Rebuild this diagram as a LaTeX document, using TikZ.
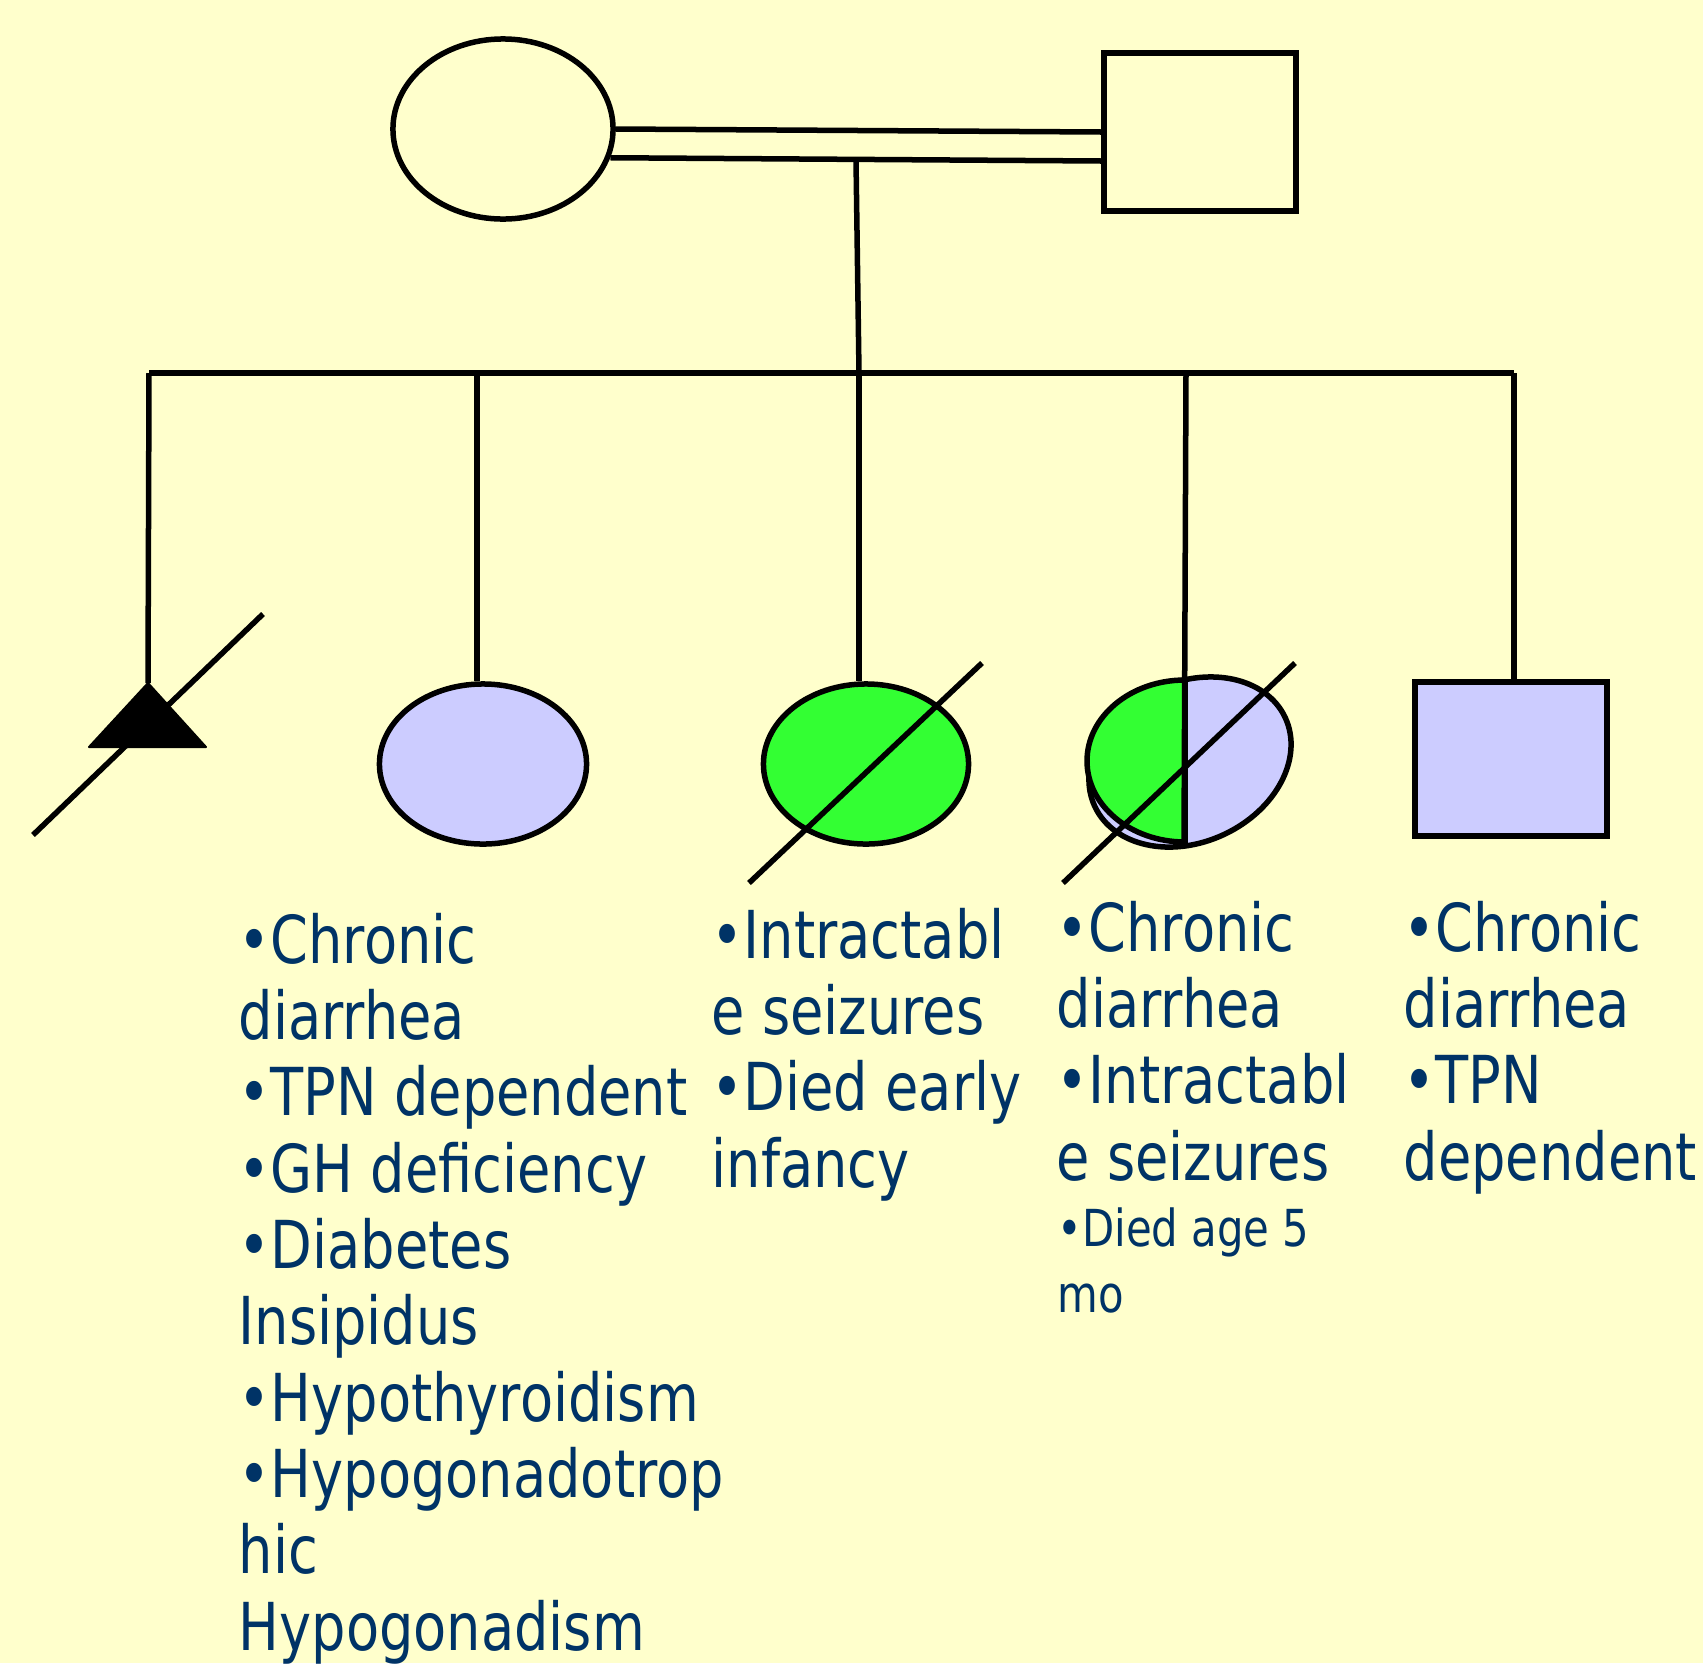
\documentclass[tikz,border=0pt]{standalone}
\usepackage{fontspec}
\usepackage{tikz}
\usetikzlibrary{shapes.geometric,calc}
\newfontfamily\notefont{DejaVu Sans}[FakeStretch=0.82]
\definecolor{paper}{HTML}{FFFFCC}
\definecolor{lilac}{HTML}{CCCCFF}
\definecolor{leaf}{HTML}{33FF33}
\definecolor{navy}{HTML}{003366}

\begin{document}
\begin{tikzpicture}[x=0.01cm,y=-0.01cm,line width=0.055cm,
  person/.style={draw,line width=0.055cm,inner sep=0pt},
  note/.style={anchor=base west,align=left,inner sep=0pt,text=navy,
    font=\notefont\fontsize{18.8}{21.7}\selectfont},
  smallnote/.style={note,font=\notefont\fontsize{14.5}{18.5}\selectfont},
  dead/.style={line width=0.055cm}]
\fill[paper] (0,0) rectangle (1703,1663);
\useasboundingbox (0,0) rectangle (1703,1663);
% parents
\node[person,ellipse,minimum width=2.2cm,minimum height=1.8cm] (mom) at (503,129) {};
\node[person,rectangle,minimum width=1.92cm,minimum height=1.58cm] (dad) at (1200,132) {};
\draw (mom.east) -- (dad.west);
\draw (mom.-15) -- ($(dad.west)+(0,29)$);
\coordinate (union) at (856,160);
\coordinate (hub) at (859,373);
\draw (union) -- (hub);
% sibship
\foreach \n/\x in {1/149,2/477,3/859,4/1186,5/1514}
  \coordinate (s\n) at (\x,373);
\draw (s1) -- (s5);
% children
\coordinate (kid1) at (148,683);
\fill[draw,line width=0.02cm,line join=round] (kid1) -- ++(58,64) -- ++(-117,0) -- cycle;
\draw (s1) -- (kid1);
\draw[dead] (33,835) -- (263,614);
\node[person,ellipse,fill=lilac,minimum width=2.07cm,minimum height=1.6cm] (kid2) at (483,764) {};
\draw (s2) -- (s2 |- kid2.north);
\node[person,ellipse,fill=leaf,minimum width=2.05cm,minimum height=1.6cm] (kid3) at (866,764) {};
\draw (s3) -- (s3 |- kid3.north);
\draw[dead] (749,883) -- (982,663);
\node[person,ellipse,fill=lilac,minimum width=2.1cm,minimum height=1.6cm,rotate=25] (kid4) at (1190,762) {};
\filldraw[fill=leaf] (1185,680) arc[start angle=270,end angle=90,x radius=98,y radius=81] -- cycle;
\coordinate (k4) at (1184,843);
\draw (s4) -- (k4);
\draw[dead] (1063,883) -- (1295,663);
\node[person,rectangle,fill=lilac,minimum width=1.92cm,minimum height=1.54cm] (kid5) at (1511,759) {};
\draw (s5) -- (s5 |- kid5.north);
% notes (anchored at the last line)
\node[note] (t2) at (236,1650) {•Chronic\\diarrhea\\•TPN dependent\\•GH deficiency\\•Diabetes\\Insipidus\\•Hypothyroidism\\•Hypogonadotrop\\hic\\Hypogonadism};
\node[note] (t3) at (709,1187) {•Intractabl\\e seizures\\•Died early\\infancy};
\node[note] (t4) at (1054,1180) {•Chronic\\diarrhea\\•Intractabl\\e seizures};
\node[smallnote] (t4b) at (1055,1312) {•Died age 5\\mo};
\node[note] (t5) at (1401,1180) {•Chronic\\diarrhea\\•TPN\\dependent};
\end{tikzpicture}
\end{document}
